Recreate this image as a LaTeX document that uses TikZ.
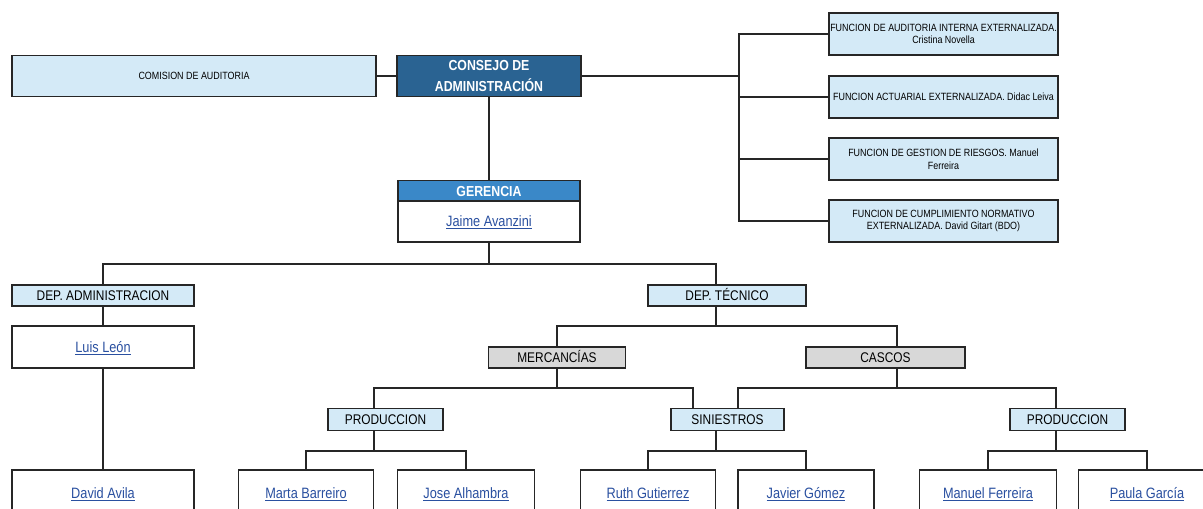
\documentclass[tikz,border=0pt]{standalone}
\usepackage{fontspec}
\setmainfont{Liberation Sans}[FakeStretch=0.85]
\definecolor{lblue}{HTML}{D4EAF7}
\definecolor{dblue}{HTML}{2A6392}
\definecolor{mblue}{HTML}{3A88C8}
\definecolor{gfill}{HTML}{D8D8D8}
\definecolor{linkc}{HTML}{2A50A0}
\definecolor{lncol}{HTML}{262626}
\newcommand\lnk[1]{\textcolor{linkc}{\underline{#1}}}
\begin{document}
\begin{tikzpicture}[x=1pt,y=-1pt,
  ln/.style={draw=lncol, line width=1.6pt},
  bx/.style={draw=lncol, line width=1.6pt, inner sep=0pt, align=center, font=\fontsize{14}{16}\selectfont, text height=10pt, text depth=0pt},
  lb/.style={bx, fill=lblue},
  gb/.style={bx, fill=gfill},
  wb/.style={bx, fill=white},
  nm/.style={wb, font=\fontsize{15}{17}\selectfont, text height=10.8pt},
  sm/.style={draw=lncol, line width=1.6pt, inner sep=0pt, align=center, fill=lblue, font=\fontsize{10.5}{12.5}\selectfont},
  hdr/.style={draw=lncol, line width=1.6pt, inner sep=0pt, align=center, text=white, font=\bfseries\fontsize{14.5}{21.5}\selectfont},
]
\useasboundingbox (0,0) rectangle (1203,509);
\clip (0,0) rectangle (1203,509);
\fill[white] (0,0) rectangle (1203,509);

% top row
\node[sm, minimum width=364, minimum height=41] (com) at (194,76) {COMISION DE AUDITORIA};
\node[hdr, fill=dblue, minimum width=184, minimum height=41] (con) at (489,76) {CONSEJO DE\\ADMINISTRACIÓN};
\node[sm, minimum width=229, minimum height=42] (f1) at (943.5,34) {FUNCION DE AUDITORIA INTERNA EXTERNALIZADA.\\Cristina Novella};
\node[sm, minimum width=229, minimum height=42] (f2) at (943.5,97) {FUNCION ACTUARIAL EXTERNALIZADA. Didac Leiva};
\node[sm, minimum width=229, minimum height=42] (f3) at (943.5,159) {FUNCION DE GESTION DE RIESGOS. Manuel\\Ferreira};
\node[sm, minimum width=229, minimum height=42] (f4) at (943.5,221) {FUNCION DE CUMPLIMIENTO NORMATIVO\\EXTERNALIZADA. David Gitart (BDO)};

% gerencia
\node[hdr, fill=mblue, font=\bfseries\fontsize{14.5}{16}\selectfont, text height=10.4pt, text depth=0pt, minimum width=182, minimum height=21] (gh) at (489,191) {GERENCIA};
\node[nm, minimum width=182, minimum height=41] (gb) at (489,221.5) {\lnk{Jaime Avanzini}};

% departments
\node[lb, minimum width=182, minimum height=21] (dadm) at (103,295.5) {DEP. ADMINISTRACION};
\node[nm, minimum width=182, minimum height=42] (luis) at (103,347) {\lnk{Luis León}};
\node[lb, minimum width=158, minimum height=21] (dtec) at (727,295.5) {DEP. TÉCNICO};
\node[gb, minimum width=137, minimum height=21] (merc) at (557,357.5) {MERCANCÍAS};
\node[gb, minimum width=159, minimum height=21] (casc) at (885.5,357.5) {CASCOS};
\node[lb, minimum width=115, minimum height=22] (prod1) at (385.5,419.5) {PRODUCCION};
\node[lb, minimum width=113, minimum height=22] (sin) at (727.5,419.5) {SINIESTROS};
\node[lb, minimum width=115, minimum height=22] (prod2) at (1067.5,419.5) {PRODUCCION};

% bottom row
\node[nm, minimum width=182, minimum height=46] (david) at (103,493) {\lnk{David Avila}};
\node[nm, minimum width=135, minimum height=46] (marta) at (306,493) {\lnk{Marta Barreiro}};
\node[nm, minimum width=137, minimum height=46] (jose) at (466,493) {\lnk{Jose Alhambra}};
\node[nm, minimum width=135, minimum height=46] (ruth) at (648,493) {\lnk{Ruth Gutierrez}};
\node[nm, minimum width=136, minimum height=46] (javier) at (806,493) {\lnk{Javier Gómez}};
\node[nm, minimum width=137, minimum height=46] (manuel) at (988,493) {\lnk{Manuel Ferreira}};
\node[nm, minimum width=137, minimum height=46] (paula) at (1147,493) {\lnk{Paula García}};

% connectors
\coordinate (rb) at (739,76);
\draw[ln] (com.east) -- (con.west);
\draw[ln] (con.east) -- (con.east -| rb);
\draw[ln] (f1.west) -- (f1.west -| rb) -- (f4.west -| rb) -- (f4.west);
\draw[ln] (f2.west) -- (f2.west -| rb);
\draw[ln] (f3.west) -- (f3.west -| rb);
\draw[ln] (con.south) -- (gh.north);

\coordinate (b1) at (0,264);
\draw[ln] (gb.south) -- (gb.south |- b1);
\draw[ln] (dadm.north) -- (dadm.north |- b1) -- ([xshift=-11pt]dtec.north |- b1) -- ([xshift=-11pt]dtec.north);
\draw[ln] (dadm.south) -- (luis.north);
\draw[ln] (luis.south) -- (david.north);

\coordinate (b2) at (0,326);
\draw[ln] ([xshift=-11pt]dtec.south) -- ([xshift=-11pt]dtec.south |- b2);
\draw[ln] (merc.north) -- (merc.north |- b2) -- ([xshift=11.5pt]casc.north |- b2) -- ([xshift=11.5pt]casc.north);

\coordinate (b3) at (0,388);
\draw[ln] (merc.south) -- (merc.south |- b3);
\draw[ln] ([xshift=-11.5pt]prod1.north) -- ([xshift=-11.5pt]prod1.north |- b3) -- ([xshift=-34.5pt]sin.north |- b3) -- ([xshift=-34.5pt]sin.north);
\draw[ln] ([xshift=11.5pt]casc.south) -- ([xshift=11.5pt]casc.south |- b3);
\draw[ln] ([xshift=10.5pt]sin.north) -- ([xshift=10.5pt]sin.north |- b3) -- ([xshift=-11.5pt]prod2.north |- b3) -- ([xshift=-11.5pt]prod2.north);

\coordinate (b4) at (0,451);
\draw[ln] ([xshift=-11.5pt]prod1.south) -- ([xshift=-11.5pt]prod1.south |- b4);
\draw[ln] (marta.north) -- (marta.north |- b4) -- (jose.north |- b4) -- (jose.north);
\draw[ln] ([xshift=-11.5pt]sin.south) -- ([xshift=-11.5pt]sin.south |- b4);
\draw[ln] (ruth.north) -- (ruth.north |- b4) -- (javier.north |- b4) -- (javier.north);
\draw[ln] ([xshift=-11.5pt]prod2.south) -- ([xshift=-11.5pt]prod2.south |- b4);
\draw[ln] (manuel.north) -- (manuel.north |- b4) -- (paula.north |- b4) -- (paula.north);
\end{tikzpicture}
\end{document}
